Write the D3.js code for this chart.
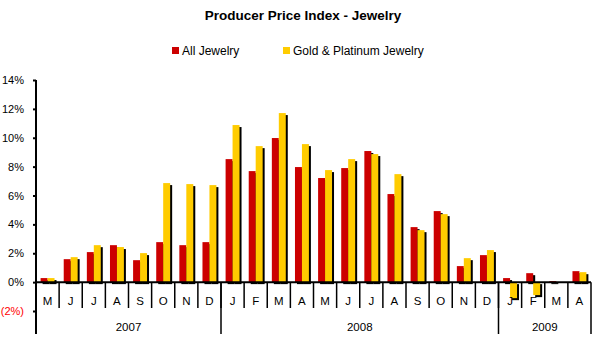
<!DOCTYPE html>
<html>
<head>
<meta charset="utf-8">
<script src="https://cdn.jsdelivr.net/npm/d3@7"></script>
<style>
  html, body { margin: 0; padding: 0; background: #fff; }
  svg { display: block; font-family: Arial, "Liberation Sans", sans-serif; }
</style>
</head>
<body>
<svg id="chart" width="600" height="347"></svg>
<script>
// Monthly year-over-year change (%), May 2007 – Apr 2009
const months = ["M","J","J","A","S","O","N","D",
                "J","F","M","A","M","J","J","A","S","O","N","D",
                "J","F","M","A"];
const years = [
  { label: "2007", start: 0, end: 8 },
  { label: "2008", start: 8, end: 20 },
  { label: "2009", start: 20, end: 24 }
];
const allJewelry = [0.28, 1.59, 2.08, 2.56, 1.52, 2.77, 2.56, 2.77,
                    8.52, 7.69, 9.98, 7.97, 7.21, 7.90, 9.08, 6.10, 3.81, 4.92, 1.11, 1.87,
                    0.28, 0.62, 0.07, 0.76];
const goldPlatinum = [0.28, 1.73, 2.56, 2.43, 2.01, 6.86, 6.79, 6.72,
                      10.88, 9.42, 11.71, 9.56, 7.76, 8.52, 8.87, 7.48, 3.60, 4.71, 1.66, 2.22,
                      -1.11, -0.90, 0.00, 0.69];
const seriesNames = ["All Jewelry", "Gold & Platinum Jewelry"];
const seriesColors = ["#CC0000", "#FFCC00"];
const yTicks = [-2, 0, 2, 4, 6, 8, 10, 12, 14];

const svg = d3.select("#chart");
const plotLeft = 36, plotRight = 591, plotTop = 80, plotBottom = 311;

const x = d3.scaleBand().domain(d3.range(months.length)).range([plotLeft, plotRight]).padding(0);
const xs = d3.scaleBand().domain([0, 1]).range([0, x.bandwidth()])
  .paddingInner(0).paddingOuter(0.66);
const y = d3.scaleLinear().domain([-2, 14]).range([plotBottom, plotTop]);

// Title
svg.append("text")
  .attr("x", 303).attr("y", 20)
  .attr("text-anchor", "middle")
  .attr("font-size", 13.5).attr("font-weight", "bold")
  .text("Producer Price Index - Jewelry");

// Legend
const legendPos = [172, 283];
seriesNames.forEach((name, i) => {
  const g = svg.append("g").attr("transform", `translate(${legendPos[i]},47)`);
  g.append("rect").attr("width", 7).attr("height", 7).attr("fill", seriesColors[i]);
  g.append("text").attr("x", 10).attr("y", 7.5)
    .attr("font-size", 12).text(name);
});

// Bars with drop shadows
const data = [allJewelry, goldPlatinum];
data.forEach((vals, s) => {
  const bar = (d, i) => ({
    x: x(i) + xs(s),
    y: y(Math.max(0, d)),
    h: Math.abs(y(d) - y(0))
  });
  svg.append("g").selectAll("rect")
    .data(vals).join("rect")
    .attr("x", (d, i) => bar(d, i).x + 2)
    .attr("y", (d, i) => bar(d, i).y + 2)
    .attr("width", xs.bandwidth())
    .attr("height", (d, i) => bar(d, i).h)
    .attr("fill", "#000");
  svg.append("g").selectAll("rect")
    .data(vals).join("rect")
    .attr("x", (d, i) => bar(d, i).x)
    .attr("y", (d, i) => bar(d, i).y)
    .attr("width", xs.bandwidth())
    .attr("height", (d, i) => bar(d, i).h)
    .attr("fill", seriesColors[s]);
});

// Y axis
const yAxis = d3.axisLeft(y)
  .tickValues(yTicks)
  .tickSize(3)
  .tickFormat(d => d < 0 ? `(${Math.abs(d)}%)` : `${d}%`);
const yg = svg.append("g").attr("transform", `translate(${plotLeft},0)`).call(yAxis);
yg.select(".domain").remove();
yg.selectAll(".tick line").attr("stroke", "#000").attr("stroke-width", 2);
yg.selectAll(".tick text")
  .attr("x", -12)
  .attr("font-size", 11)
  .attr("font-family", "Arial, 'Liberation Sans', sans-serif")
  .attr("fill", d => d < 0 ? "#FF0000" : "#000");

// Vertical axis line runs into the category area
svg.append("line")
  .attr("x1", plotLeft).attr("x2", plotLeft)
  .attr("y1", plotTop).attr("y2", 334)
  .attr("stroke", "#000").attr("stroke-width", 2);

// Zero line
svg.append("line")
  .attr("x1", plotLeft).attr("x2", plotRight)
  .attr("y1", y(0)).attr("y2", y(0))
  .attr("stroke", "#000").attr("stroke-width", 2);

// Month separators and labels
const monthG = svg.append("g");
d3.range(1, months.length).forEach(i => {
  monthG.append("line")
    .attr("x1", x(i)).attr("x2", x(i))
    .attr("y1", y(0)).attr("y2", 308)
    .attr("stroke", "#000").attr("stroke-width", 1.5);
});
monthG.selectAll("text").data(months).join("text")
  .attr("x", (d, i) => x(i) + x.bandwidth() / 2)
  .attr("y", 305)
  .attr("text-anchor", "middle")
  .attr("font-size", 11.5)
  .text(d => d);

// Year groups
years.forEach(yr => {
  const xe = yr.end < months.length ? x(yr.end) : plotRight;
  svg.append("line")
    .attr("x1", xe).attr("x2", xe)
    .attr("y1", y(0)).attr("y2", 334)
    .attr("stroke", "#000").attr("stroke-width", 1.5);
  svg.append("text")
    .attr("x", (x(yr.start) + xe) / 2)
    .attr("y", 331)
    .attr("text-anchor", "middle")
    .attr("font-size", 11.5)
    .text(yr.label);
});
</script>
</body>
</html>
